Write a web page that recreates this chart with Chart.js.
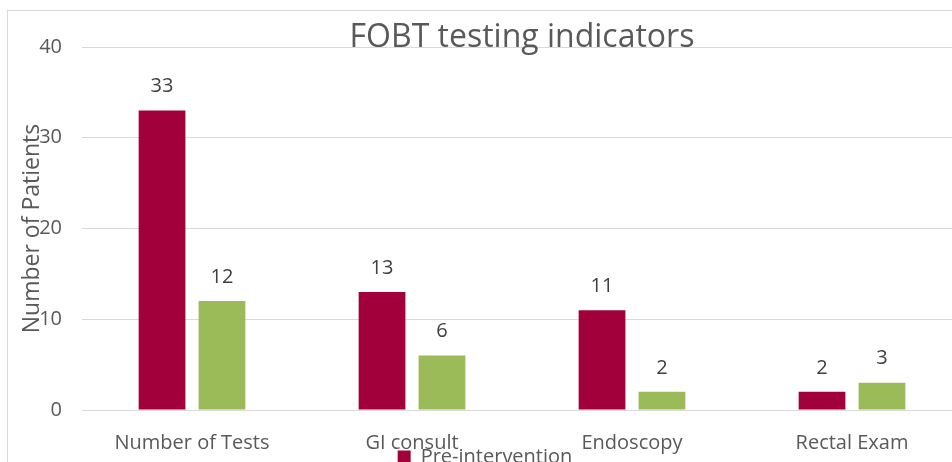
<!DOCTYPE html>
<html>
<head>
<meta charset="utf-8">
<script src="https://cdn.jsdelivr.net/npm/chart.js@4/dist/chart.umd.min.js"></script>
<style>
  html, body { margin: 0; padding: 0; background: #ffffff; overflow: hidden; width: 952px; height: 462px; }
  #box { position: absolute; left: 7px; top: 10px; width: 964px; height: 490px; border-left: 1px solid #d9d9d9; border-top: 1px solid #d9d9d9; }
  canvas { display: block; }
</style>
</head>
<body>
<div id="box"><canvas id="c" width="964" height="490"></canvas></div>
<script>
const chartTitle = 'FOBT testing indicators';
const yAxisTitle = 'Number of Patients';
const categories = ['Number of Tests', 'GI consult', 'Endoscopy', 'Rectal Exam'];
const seriesNames = ['Pre-intervention', 'Post-intervention'];
const preValues = [33, 13, 11, 2];
const postValues = [12, 6, 2, 3];
const yTicks = [0, 10, 20, 30, 40];

const FONT = '"Open Sans", "Liberation Sans", sans-serif';

// Stack legend entries one per row (vertical legend centred below the axis, as in the original)
(function () {
  const lp = Chart.registry.getPlugin('legend');
  const LegendEl = lp && lp._element;
  if (!LegendEl) return;
  const HALF = 115;
  const origFit = LegendEl.prototype.fit;
  LegendEl.prototype.fit = function () {
    const mw = this.maxWidth;
    this.maxWidth = Math.min(mw, 2 * HALF);
    origFit.call(this);
    this.maxWidth = mw;
    this.width = mw;
  };
  const origDraw = LegendEl.prototype.draw;
  LegendEl.prototype.draw = function () {
    const l = this.left, r = this.right, w = this.width;
    const c = (l + r) / 2;
    this.left = c - HALF; this.right = c + HALF; this.width = 2 * HALF;
    origDraw.call(this);
    this.left = l; this.right = r; this.width = w;
  };
})();

const valueLabels = {
  id: 'valueLabels',
  afterDatasetsDraw(chart) {
    const ctx = chart.ctx;
    ctx.save();
    ctx.font = '20px ' + FONT;
    ctx.fillStyle = '#404040';
    ctx.textAlign = 'center';
    ctx.textBaseline = 'middle';
    chart.data.datasets.forEach((ds, i) => {
      chart.getDatasetMeta(i).data.forEach((bar, j) => {
        ctx.fillText(String(ds.data[j]), bar.x, bar.y - 24);
      });
    });
    ctx.restore();
  }
};

new Chart(document.getElementById('c'), {
  type: 'bar',
  data: {
    labels: categories,
    datasets: [
      { label: seriesNames[0], data: preValues, backgroundColor: '#A2003A', barPercentage: 0.78, categoryPercentage: 0.545 },
      { label: seriesNames[1], data: postValues, backgroundColor: '#9BBB59', barPercentage: 0.78, categoryPercentage: 0.545 }
    ]
  },
  options: {
    responsive: false,
    devicePixelRatio: 1,
    animation: false,
    layout: { padding: { left: 0, right: 10, top: 0, bottom: 0 } },
    plugins: {
      tooltip: { enabled: false },
      title: {
        display: true,
        text: chartTitle,
        fullSize: false,
        color: '#595959',
        font: { family: FONT, size: 32, weight: 'normal' },
        padding: { top: 8, bottom: -10.4 }
      },
      legend: {
        position: 'bottom',
        labels: {
          color: '#595959',
          font: { family: FONT, size: 20 },
          boxWidth: 13,
          boxHeight: 13,
          padding: 4
        }
      }
    },
    scales: {
      x: {
        grid: { display: false },
        border: { display: false },
        ticks: { color: '#595959', font: { family: FONT, size: 20 }, padding: 13 },
        afterFit(scale) {
          scale.height = 33;
          scale._computeLabelArea = function () { return undefined; };
        }
      },
      y: {
        min: 0,
        max: 40,
        afterBuildTicks(scale) { scale.ticks = yTicks.map(v => ({ value: v })); },
        grid: { color: '#d9d9d9', lineWidth: 1, drawTicks: false },
        border: { display: false },
        ticks: { color: '#595959', font: { family: FONT, size: 20 }, padding: 20 },
        title: {
          display: true,
          text: yAxisTitle,
          color: '#595959',
          font: { family: FONT, size: 23 },
          padding: { top: 11, bottom: 0 }
        },
        afterFit(scale) { scale.width = 74; }
      }
    }
  },
  plugins: [valueLabels]
});
</script>
</body>
</html>
